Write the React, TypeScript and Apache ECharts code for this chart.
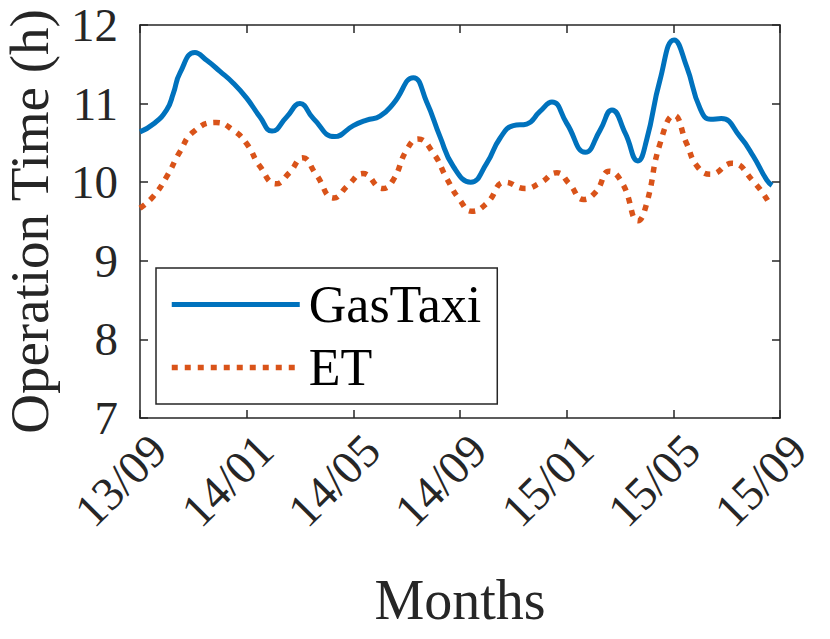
import React, { useEffect, useRef } from "react";
import * as echarts from "echarts";

const monthLabels = ["13/09", "14/01", "14/05", "14/09", "15/01", "15/05", "15/09"];

// [month index since 13/09, hours] (incl. its peaks and troughs)
const gasTaxi: [number, number][] = [
  [0, 10.64], [0.5, 10.74], [1, 10.92], [1.25, 11.13], [1.5, 11.39], [2.06, 11.65],
  [2.5, 11.55], [3, 11.41], [3.5, 11.26], [4, 11.07], [4.5, 10.83], [4.95, 10.65],
  [5.5, 10.83], [6.0, 11.0], [6.5, 10.81], [7.3, 10.58], [8, 10.72], [8.5, 10.79],
  [9, 10.84], [9.5, 11.0], [10.25, 11.33], [10.75, 11.02], [11.25, 10.58], [11.75, 10.2],
  [12.4, 10.0], [13, 10.24], [13.5, 10.56], [14, 10.72], [14.5, 10.74], [15, 10.9],
  [15.45, 11.02], [16, 10.75], [16.7, 10.38], [17.25, 10.66], [17.7, 10.92],
  [18.2, 10.62], [18.67, 10.27], [19, 10.54], [19.5, 11.3], [20.03, 11.81],
  [20.5, 11.47], [21, 10.94], [21.4, 10.8], [21.8, 10.81], [22.5, 10.58], [23, 10.33],
  [23.5, 10.03], [23.7, 9.96],
];

const et: [number, number][] = [
  [0, 9.67], [0.5, 9.82], [1, 10.07], [1.5, 10.39], [2, 10.64], [2.85, 10.76],
  [3.5, 10.66], [4, 10.49], [4.5, 10.2], [5.1, 9.98], [5.6, 10.12], [6.1, 10.31],
  [6.6, 10.1], [7.27, 9.8], [7.8, 9.96], [8.36, 10.11], [9.1, 9.92], [9.5, 10.03],
  [10, 10.41], [10.43, 10.55], [11, 10.37], [11.5, 10.05], [12, 9.77], [12.44, 9.63],
  [13, 9.73], [13.7, 10.0], [14.44, 9.92], [15, 9.99], [15.63, 10.12], [16.1, 9.98],
  [16.63, 9.78], [17.1, 9.88], [17.6, 10.14], [18.1, 9.98], [18.68, 9.51], [19, 9.73],
  [19.5, 10.49], [20.03, 10.85], [20.5, 10.49], [20.9, 10.2], [21.4, 10.1], [22.2, 10.24],
  [23, 10.01], [23.55, 9.76],
];

const FONT = "'Liberation Serif', 'Times New Roman', serif";
const AX = "#262626";
const BLUE = "#0072BD";
const ORANGE = "#D95319";

export default function App() {
  const ref = useRef<HTMLDivElement>(null);
  useEffect(() => {
    if (!ref.current) return;
    const chart = echarts.init(ref.current, null, { renderer: "svg" });
    const axisLine = { show: true, onZero: false, lineStyle: { color: AX, width: 1.5 } };
    const axisTick = { show: true, inside: true, length: 8, lineStyle: { color: AX, width: 1.5 } };
    const blueLine = { color: BLUE, width: 5 };
    const orangeLine = { color: ORANGE, width: 5.5, type: [6, 7], cap: "butt" };
    chart.setOption({
      animation: false,
      backgroundColor: "#ffffff",
      grid: { left: 140, right: 50, top: 25, bottom: 221, containLabel: false, outerBoundsMode: "none" },
      xAxis: [
        {
          type: "value",
          min: 0,
          max: 24,
          interval: 4,
          position: "bottom",
          axisLine,
          axisTick,
          splitLine: { show: false },
          axisLabel: {
            formatter: (v: number) => monthLabels[Math.round(v / 4)] ?? "",
            rotate: 45,
            margin: 6,
            align: "right",
            verticalAlign: "top",
            lineHeight: 52,
            fontSize: 47,
            fontFamily: FONT,
            color: AX,
          },
          name: "Months",
          nameLocation: "middle",
          nameGap: 154,
          nameTextStyle: { fontSize: 56, fontFamily: FONT, color: AX },
        },
        {
          type: "value",
          min: 0,
          max: 24,
          interval: 4,
          position: "top",
          axisLine,
          axisTick,
          splitLine: { show: false },
          axisLabel: { show: false },
        },
      ],
      yAxis: [
        {
          type: "value",
          min: 7,
          max: 12,
          interval: 1,
          position: "left",
          axisLine,
          axisTick,
          splitLine: { show: false },
          axisLabel: { margin: 22, fontSize: 47, fontFamily: FONT, color: AX },
          name: "Operation Time (h)",
          nameLocation: "middle",
          nameGap: 88,
          nameTextStyle: { fontSize: 55, lineHeight: 45, fontFamily: FONT, color: AX },
        },
        {
          type: "value",
          min: 7,
          max: 12,
          interval: 1,
          position: "right",
          axisLine,
          axisTick,
          splitLine: { show: false },
          axisLabel: { show: false },
        },
      ],
      legend: {
        orient: "vertical",
        left: 156,
        top: 268,
        itemWidth: 128,
        itemHeight: 2,
        itemGap: 10,
        padding: [10, 16, 10, 13],
        borderColor: AX,
        borderWidth: 1.5,
        borderRadius: 0,
        backgroundColor: "#ffffff",
        itemStyle: { opacity: 0 },
        textStyle: { fontSize: 52, fontFamily: FONT, color: "#000000", lineHeight: 53, padding: [0, 0, 0, 4] },
        data: [
          { name: "GasTaxi", lineStyle: blueLine },
          { name: "ET", lineStyle: orangeLine },
        ],
      },
      series: [
        {
          name: "GasTaxi",
          type: "line",
          data: gasTaxi,
          smooth: 0.5,
          symbol: "none",
          lineStyle: blueLine,
          itemStyle: { color: BLUE },
        },
        {
          name: "ET",
          type: "line",
          data: et,
          smooth: 0.5,
          symbol: "none",
          lineStyle: orangeLine,
          itemStyle: { color: ORANGE },
        },
      ],
    });
    return () => chart.dispose();
  }, []);
  return (
    <div
      ref={ref}
      style={{ position: "fixed", left: 0, top: 0, width: 830, height: 639, background: "#fff" }}
    />
  );
}
